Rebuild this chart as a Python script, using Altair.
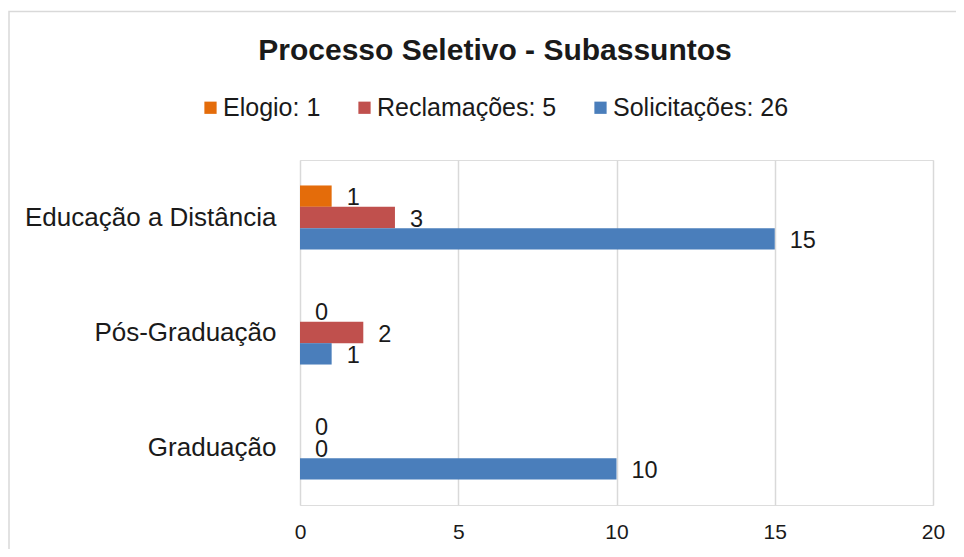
import altair as alt
import pandas as pd

categories = ["Educação a Distância", "Pós-Graduação", "Graduação"]
series = ["Elogio", "Reclamações", "Solicitações"]
elogio = [1, 0, 0]
reclamacoes = [3, 2, 0]
solicitacoes = [15, 1, 10]
colors = ["#E46C0A", "#C0504D", "#4A7EBB"]
x_ticks = [0, 5, 10, 15, 20]
title_text = "Processo Seletivo - Subassuntos"

values_by_series = [elogio, reclamacoes, solicitacoes]
labels = [f"{s}: {sum(v)}" for s, v in zip(series, values_by_series)]

rows = []
for lab, vals in zip(labels, values_by_series):
    for c, v in zip(categories, vals):
        rows.append({"categoria": c, "serie": lab, "valor": v})
df = pd.DataFrame(rows)

FONT = "Liberation Sans"

base = alt.Chart(df).encode(
    y=alt.Y("categoria:N", sort=categories, title=None,
            scale=alt.Scale(paddingInner=0.443, paddingOuter=0.2215),
            axis=alt.Axis(ticks=False, domain=False, labelFontSize=26,
                          labelFont=FONT, labelColor="#1a1a1a", labelPadding=24,
                          labelLimit=0)),
    yOffset=alt.YOffset("serie:N", sort=labels),
)

bars = base.mark_bar().encode(
    x=alt.X("valor:Q", title=None,
            scale=alt.Scale(domain=[0, 20], nice=False),
            axis=alt.Axis(values=x_ticks, ticks=False, domain=False, grid=True,
                          gridColor="#d9d9d9", gridWidth=1.5, labelFlush=False,
                          labelFontSize=21, labelFont=FONT, labelColor="#1a1a1a",
                          labelPadding=16)),
    color=alt.Color("serie:N", sort=labels,
                    scale=alt.Scale(domain=labels, range=colors),
                    legend=alt.Legend(title=None, orient="none", direction="horizontal",
                                      legendX=-102, legendY=-65, symbolType="square",
                                      symbolSize=150, symbolStrokeWidth=0,
                                      labelFontSize=25, labelFont=FONT, labelLimit=0,
                                      labelColor="#1a1a1a", labelOffset=0,
                                      columnPadding=31, padding=0)),
)

text = base.mark_text(align="left", baseline="middle", dx=15, dy=2,
                      fontSize=23.5, font=FONT, color="#1a1a1a").encode(
    x=alt.X("valor:Q"),
    text=alt.Text("valor:Q"),
)

title_df = pd.DataFrame({"t": [title_text]})
title = alt.Chart(title_df).mark_text(fontSize=30, fontWeight="bold", font=FONT,
                                      color="#1a1a1a", baseline="middle").encode(
    x=alt.value(195), y=alt.value(-109), text="t:N")

frame = alt.Chart(title_df).mark_rect(fill=None, stroke="#d9d9d9", strokeWidth=1.5).encode(
    x=alt.value(-291), x2=alt.value(800), y=alt.value(-148.5), y2=alt.value(500))

chart = alt.layer(frame, bars, text, title).properties(
    width=633, height=345,
    autosize=alt.AutoSizeParams(type="none"),
    padding={"left": 292, "top": 152, "right": 23, "bottom": 44},
).configure_view(stroke=None).configure(background="white")

chart.save("out.html", embed_options={"renderer": "svg", "actions": False})
